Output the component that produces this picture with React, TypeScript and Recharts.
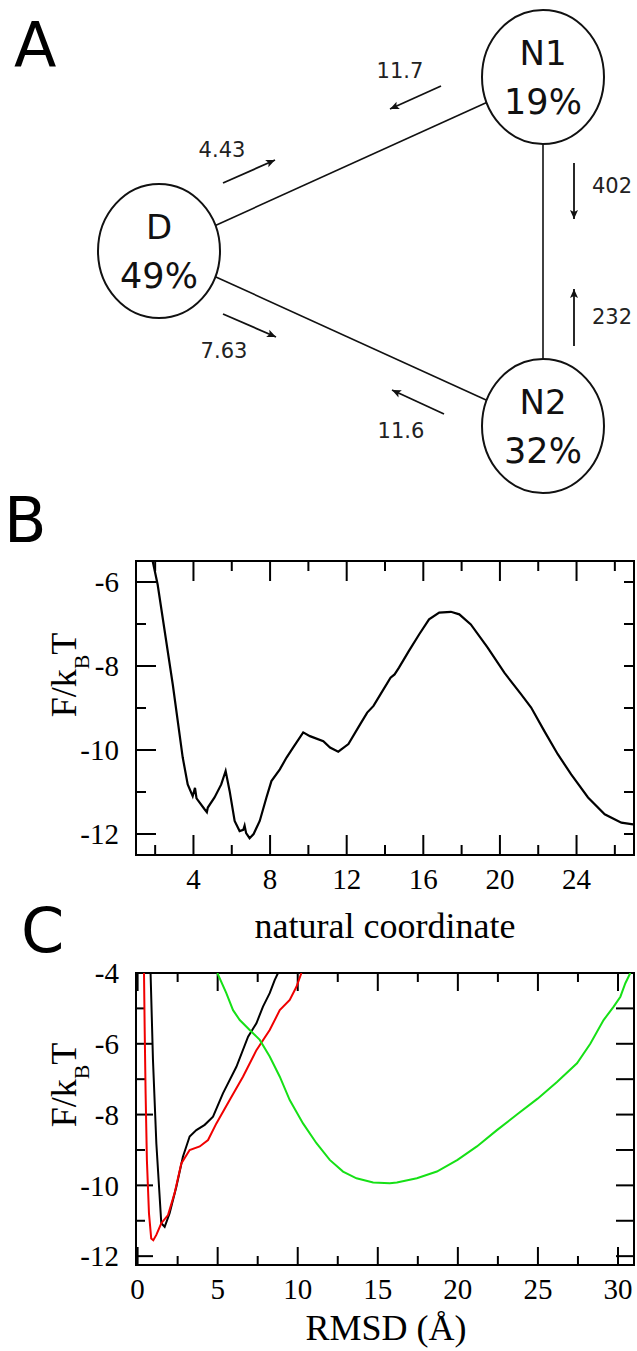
import {
  LineChart,
  Line,
  XAxis,
  YAxis,
  ReferenceArea,
  ReferenceLine,
} from "recharts";

const SERIF = '"Liberation Serif", "Times New Roman", serif';
const SANS = '"DejaVu Sans", "Noto Sans", sans-serif';

// A: three-state kinetic model, diagram units are page pixels
const stateNames = ["N1", "D", "N2"];
const statePops = ["19%", "49%", "32%"];
const stateX = [543, 159, 543];
const stateY = [77, 251, 426];
const stateLinks = [
  [1, 0],
  [1, 2],
  [0, 2],
];

const rateText = ["11.7", "4.43", "402", "232", "7.63", "11.6"];
const rateFromX = [441, 223, 574, 574, 223, 444];
const rateFromY = [86, 183, 163, 346, 314, 414];
const rateToX = [390, 275, 574, 574, 276, 392];
const rateToY = [109, 160, 219, 289, 337, 390];
const rateTextX = [400, 222, 612, 612, 224, 401];
const rateTextY = [78, 157, 193, 324, 358, 438];

// B: free energy along the natural coordinate
const natCoord = [
  1.87, 2.13, 2.92, 3.44, 3.7, 3.96, 4.08, 4.16, 4.58, 4.7, 4.75, 5.1, 5.45,
  5.68, 5.89, 6.15, 6.41, 6.6, 6.67, 6.75, 6.93, 7.14, 7.46, 7.81, 8.07, 8.51,
  8.86, 9.21, 9.73, 10.08, 10.78, 11.13, 11.56, 12.09, 12.7, 13.07, 13.4,
  13.77, 14.29, 14.5, 14.73, 15.25, 15.78, 16.3, 16.83, 17.44, 17.88, 18.48,
  19.36, 20.23, 21.1, 21.63, 22.32, 23.02, 23.72, 24.6, 25.47, 26.34, 26.95,
];
const natF = [
  -5.5, -6.06, -8.44, -10.18, -10.82, -11.1, -10.9, -11.15, -11.41, -11.48,
  -11.37, -11.13, -10.82, -10.5, -10.98, -11.69, -11.93, -11.9, -11.8, -11.98,
  -12.1, -12.0, -11.69, -11.13, -10.74, -10.46, -10.18, -9.94, -9.58, -9.67,
  -9.79, -9.94, -10.04, -9.86, -9.39, -9.11, -8.95, -8.67, -8.28, -8.2, -8.04,
  -7.64, -7.25, -6.89, -6.73, -6.71, -6.77, -7.01, -7.56, -8.16, -8.67, -8.99,
  -9.55, -10.1, -10.58, -11.13, -11.53, -11.73, -11.77,
];
const natTicks = [2, 4, 6, 8, 10, 12, 14, 16, 18, 20, 22, 24, 26];
const natFTicks = [-12, -11, -10, -9, -8, -7, -6];
const natFLabels = [-12, -10, -8, -6];

// C: free energy along RMSD to the three states
const rmsdBlack = [
  0.81, 0.96, 1.17, 1.48, 1.69, 2.0, 2.42, 2.83, 3.25, 3.67, 4.19, 4.71, 5.33,
  6.17, 6.9, 7.42, 7.83, 8.25, 8.56, 8.77,
];
const fBlack = [
  -4.0, -6.46, -8.81, -11.07, -11.17, -10.79, -10.04, -9.19, -8.62, -8.44,
  -8.29, -8.06, -7.4, -6.65, -5.8, -5.42, -4.95, -4.57, -4.2, -4.0,
];
const rmsdRed = [
  0.4, 0.44, 0.5, 0.58, 0.71, 0.85, 0.98, 1.17, 1.48, 1.9, 2.31, 2.73, 3.25,
  3.88, 4.4, 4.92, 5.75, 6.58, 7.42, 8.25, 8.88, 9.5, 9.92, 10.23,
];
const fRed = [
  -4.0, -5.52, -7.4, -9.28, -10.79, -11.5, -11.55, -11.4, -11.07, -10.84,
  -10.22, -9.38, -9.0, -8.9, -8.72, -8.25, -7.59, -6.93, -6.18, -5.61, -5.05,
  -4.76, -4.39, -4.0,
];
const rmsdGreen = [
  4.98, 5.54, 5.96, 6.38, 7.0, 7.63, 8.25, 8.88, 9.5, 10.33, 11.17, 12.0,
  12.83, 13.67, 14.71, 15.75, 16.19, 17.44, 18.69, 19.98, 21.19, 22.44, 23.69,
  24.98, 26.19, 27.44, 28.27, 29.1, 29.73, 30.15, 30.46, 30.77,
];
const fGreen = [
  -4.0, -4.57, -5.05, -5.33, -5.61, -5.89, -6.36, -6.93, -7.59, -8.25, -8.81,
  -9.28, -9.61, -9.8, -9.92, -9.94, -9.92, -9.8, -9.61, -9.28, -8.9, -8.44,
  -8.0, -7.55, -7.08, -6.55, -6.0, -5.33, -4.95, -4.67, -4.29, -4.0,
];
const rmsdTicks = [
  0, 2.5, 5, 7.5, 10, 12.5, 15, 17.5, 20, 22.5, 25, 27.5, 30,
];
const rmsdFTicks = [-12, -11, -10, -9, -8, -7, -6, -5, -4];
const rmsdFLabels = [-12, -10, -8, -6, -4];

const zip = (xs: number[], ys: number[]) =>
  xs.map((x, i) => ({ x, f: ys[i] }));

const RX = 61;
const RY = 67;

const stateData = stateNames.map((name, i) => ({
  name,
  pop: statePops[i],
  x: stateX[i],
  y: stateY[i],
}));
const rateData = rateText.map((text, i) => ({
  text,
  x: rateTextX[i],
  y: rateTextY[i],
}));

function rim(i: number, j: number) {
  const dx = stateX[j] - stateX[i];
  const dy = stateY[j] - stateY[i];
  const t = 1 / Math.sqrt((dx / RX) ** 2 + (dy / RY) ** 2);
  return { x: stateX[i] + dx * t, y: stateY[i] + dy * t };
}

// two-point series: tail then head (head carries its direction)
const arrowData = rateText.map((_, i) => [
  { x: rateFromX[i], y: rateFromY[i] },
  {
    x: rateToX[i],
    y: rateToY[i],
    dx: rateToX[i] - rateFromX[i],
    dy: rateToY[i] - rateFromY[i],
  },
]);
const linkData = stateLinks.map(([i, j]) => [rim(i, j), rim(j, i)]);

function StateDot(props: any) {
  const { cx, cy, payload } = props;
  if (cx == null || cy == null) return <g />;
  return (
    <g>
      <ellipse cx={cx} cy={cy} rx={RX} ry={RY} fill="none" stroke="#111" strokeWidth={2} />
      <text x={cx} y={cy - 12} textAnchor="middle" fontFamily={SANS} fontSize={34} fill="#111">
        {payload.name}
      </text>
      <text x={cx} y={cy + 37} textAnchor="middle" fontFamily={SANS} fontSize={35} fill="#111">
        {payload.pop}
      </text>
    </g>
  );
}

function RateDot(props: any) {
  const { cx, cy, payload } = props;
  if (cx == null || cy == null) return <g />;
  return (
    <text x={cx} y={cy} textAnchor="middle" fontFamily={SANS} fontSize={21} fill="#222">
      {payload.text}
    </text>
  );
}

function ArrowHead(props: any) {
  const { cx, cy, payload } = props;
  if (cx == null || cy == null || payload.dx == null) return <g />;
  const len = Math.hypot(payload.dx, payload.dy) || 1;
  const ux = payload.dx / len;
  const uy = payload.dy / len;
  const bx = cx - ux * 9;
  const by = cy - uy * 9;
  return (
    <polygon
      points={`${cx},${cy} ${bx - uy * 4},${by + ux * 4} ${bx + ux * 2},${by + uy * 2} ${bx + uy * 4},${by - ux * 4}`}
      fill="#111"
    />
  );
}

function isMajor(v: number, step: number) {
  const r = v / step;
  return Math.abs(r - Math.round(r)) < 1e-6;
}

// inward ticks on bottom and top edges of the box
function XMarks(props: any) {
  const { x1, y1, y2, len } = props;
  const top = Math.min(+y1, +y2);
  const bottom = Math.max(+y1, +y2);
  return (
    <g>
      <line x1={x1} y1={bottom} x2={x1} y2={bottom - len} stroke="#000" strokeWidth={2} />
      <line x1={x1} y1={top} x2={x1} y2={top + len} stroke="#000" strokeWidth={2} />
    </g>
  );
}

// inward ticks on left and right edges of the box
function YMarks(props: any) {
  const { x1, x2, y1, len, right } = props;
  const left = Math.min(+x1, +x2);
  const rightX = Math.max(+x1, +x2);
  return (
    <g>
      <line x1={left} y1={y1} x2={left + len} y2={y1} stroke="#000" strokeWidth={2} />
      <line x1={rightX - right} y1={y1} x2={rightX} y2={y1} stroke="#000" strokeWidth={2} />
    </g>
  );
}

function XLabel(props: any) {
  const { x, y, payload, step } = props;
  const v = payload.value;
  if (!isMajor(v, step)) return <g />;
  return (
    <text x={x} y={y + 34} textAnchor="middle" fontFamily={SERIF} fontSize={29} fill="#000">
      {String(v)}
    </text>
  );
}

const B_TOP = 561;
const B_H = 294;
const C_TOP = 973;
const C_H = 292;
const B_XDOM = [1, 27];
const B_YDOM = [-12.5, -5.5];
const C_XDOM = [-0.1, 31];
const C_YDOM = [-12.25, -4];

const yTickStyle = { fontSize: 29, fontFamily: SERIF, fill: "#000" };

export default function App() {
  const natData = zip(natCoord, natF);
  return (
    <div
      style={{
        position: "absolute",
        left: 0,
        top: 0,
        width: 637,
        height: 1351,
        background: "#fff",
        overflow: "hidden",
      }}
    >
      <div style={{ position: "absolute", left: 0, top: 0 }}>
        <LineChart width={637} height={500} margin={{ top: 0, right: 0, bottom: 0, left: 0 }}>
          <XAxis type="number" dataKey="x" domain={[0, 637]} hide allowDataOverflow />
          <YAxis type="number" domain={[0, 500]} reversed hide allowDataOverflow />
          {linkData.map((seg, k) => (
            <Line
              key={`link${k}`}
              data={seg}
              dataKey="y"
              type="linear"
              stroke="#111"
              strokeWidth={1.6}
              dot={false}
              isAnimationActive={false}
            />
          ))}
          {arrowData.map((seg, k) => (
            <Line
              key={`arrow${k}`}
              data={seg}
              dataKey="y"
              type="linear"
              stroke="#111"
              strokeWidth={1.8}
              dot={(p: any) => <ArrowHead key={`h${k}${p.index}`} {...p} />}
              isAnimationActive={false}
            />
          ))}
          <Line
            data={stateData}
            dataKey="y"
            stroke="none"
            dot={(p: any) => <StateDot key={`s${p.index}`} {...p} />}
            isAnimationActive={false}
          />
          <Line
            data={rateData}
            dataKey="y"
            stroke="none"
            dot={(p: any) => <RateDot key={`t${p.index}`} {...p} />}
            isAnimationActive={false}
          />
        </LineChart>
      </div>

      <div style={{ position: "absolute", left: 0, top: B_TOP - 20 }}>
        <LineChart width={637} height={20 + B_H + 80} margin={{ top: 20, right: 3, bottom: 0, left: 0 }}>
          <XAxis
            type="number"
            dataKey="x"
            domain={B_XDOM}
            ticks={natTicks}
            interval={0}
            allowDataOverflow
            axisLine={false}
            tickLine={false}
            tickSize={0}
            tickMargin={0}
            height={80}
            tick={(p: any) => <XLabel {...p} step={4} />}
          />
          <YAxis
            type="number"
            domain={B_YDOM}
            ticks={natFLabels}
            interval={0}
            allowDataOverflow
            axisLine={false}
            tickLine={false}
            tickMargin={11}
            width={136}
            tick={yTickStyle}
          />
          <ReferenceArea
            x1={B_XDOM[0]}
            x2={B_XDOM[1]}
            y1={B_YDOM[0]}
            y2={B_YDOM[1]}
            fill="none"
            stroke="#000"
            strokeWidth={2}
            ifOverflow="visible"
          />
          {natTicks.map((v) => (
            <ReferenceLine
              key={`bx${v}`}
              x={v}
              ifOverflow="visible"
              shape={(p: any) => <XMarks {...p} len={isMajor(v, 4) ? 20 : 10} />}
            />
          ))}
          {natFTicks.map((v) => (
            <ReferenceLine
              key={`by${v}`}
              y={v}
              ifOverflow="visible"
              shape={(p: any) => <YMarks {...p} len={isMajor(v, 2) ? 20 : 10} right={10} />}
            />
          ))}
          <Line
            data={natData}
            dataKey="f"
            type="linear"
            stroke="#000"
            strokeWidth={2.2}
            dot={false}
            isAnimationActive={false}
          />
        </LineChart>
      </div>

      <div style={{ position: "absolute", left: 0, top: C_TOP - 20 }}>
        <LineChart width={637} height={20 + C_H + 80} margin={{ top: 20, right: 3, bottom: 0, left: 0 }}>
          <XAxis
            type="number"
            dataKey="x"
            domain={C_XDOM}
            ticks={rmsdTicks}
            interval={0}
            allowDataOverflow
            axisLine={false}
            tickLine={false}
            tickSize={0}
            tickMargin={0}
            height={80}
            tick={(p: any) => <XLabel {...p} step={5} />}
          />
          <YAxis
            type="number"
            domain={C_YDOM}
            ticks={rmsdFLabels}
            interval={0}
            allowDataOverflow
            axisLine={false}
            tickLine={false}
            tickMargin={11}
            width={136}
            tick={yTickStyle}
          />
          <ReferenceArea
            x1={C_XDOM[0]}
            x2={C_XDOM[1]}
            y1={C_YDOM[0]}
            y2={C_YDOM[1]}
            fill="none"
            stroke="#000"
            strokeWidth={2}
            ifOverflow="visible"
          />
          {rmsdTicks.map((v) => (
            <ReferenceLine
              key={`cx${v}`}
              x={v}
              ifOverflow="visible"
              shape={(p: any) => <XMarks {...p} len={isMajor(v, 5) ? 18 : 9} />}
            />
          ))}
          {rmsdFTicks.map((v) => (
            <ReferenceLine
              key={`cy${v}`}
              y={v}
              ifOverflow="visible"
              shape={(p: any) => <YMarks {...p} len={isMajor(v, 2) ? 17 : 9} right={18} />}
            />
          ))}
          <Line data={zip(rmsdBlack, fBlack)} dataKey="f" type="linear" stroke="#000" strokeWidth={2} dot={false} isAnimationActive={false} />
          <Line data={zip(rmsdRed, fRed)} dataKey="f" type="linear" stroke="#f00000" strokeWidth={2} dot={false} isAnimationActive={false} />
          <Line data={zip(rmsdGreen, fGreen)} dataKey="f" type="linear" stroke="#16e016" strokeWidth={2} dot={false} isAnimationActive={false} />
        </LineChart>
      </div>

      <svg
        width={637}
        height={1351}
        style={{ position: "absolute", left: 0, top: 0, pointerEvents: "none" }}
      >
        <text x={14} y={67} fontFamily={SANS} fontSize={62} fill="#000">A</text>
        <text x={4} y={542} fontFamily={SANS} fontSize={62} fill="#000">B</text>
        <text x={21} y={952} fontFamily={SANS} fontSize={62} fill="#000">C</text>

        <text x={385} y={938} textAnchor="middle" fontFamily={SERIF} fontSize={36} fill="#000">
          natural coordinate
        </text>
        <text x={386} y={1340} textAnchor="middle" fontFamily={SERIF} fontSize={36} fill="#000">
          RMSD (Å)
        </text>

        {[B_TOP + B_H / 2 - 33, C_TOP + C_H / 2 - 34].map((cy) => (
          <text
            key={cy}
            transform={`translate(76 ${cy}) rotate(-90)`}
            textAnchor="middle"
            fontFamily={SERIF}
            fontSize={36}
            fill="#000"
          >
            <tspan>F/k</tspan>
            <tspan fontSize={22} dy={13}>B</tspan>
            <tspan dy={-13}>T</tspan>
          </text>
        ))}
      </svg>
    </div>
  );
}
